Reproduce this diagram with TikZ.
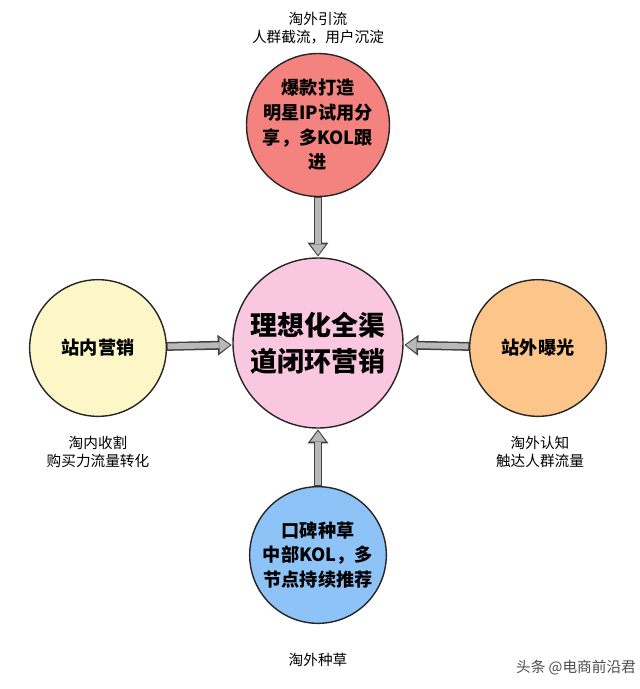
\documentclass[tikz,border=0pt]{standalone}
\usepackage{fontspec}
\setmainfont{Noto Sans CJK SC}
\usetikzlibrary{positioning, arrows.meta}

\definecolor{topred}{HTML}{F4827F}
\definecolor{midpink}{HTML}{F9C8E0}
\definecolor{leftyel}{HTML}{FDF7C8}
\definecolor{rightor}{HTML}{FCC68B}
\definecolor{botblue}{HTML}{8EC3F7}

\begin{document}
\begin{tikzpicture}[
    x=0.03cm, y=-0.03cm,
    every node/.style={font=\fontsize{12.5}{16}\selectfont, align=center},
    ring/.style={circle, draw=black!85, line width=1.2pt, minimum size=4.1cm, inner sep=0pt,
        font=\bfseries\fontsize{15.5}{21}\selectfont},
    hub/.style={ring, minimum size=5.1cm, font=\bfseries\fontsize{23}{31}\selectfont},
    pipefill/.style={line width=5pt, draw=gray!55, -{Triangle[length=9pt, width=13pt, line width=0pt]}}
]
    \useasboundingbox (0,0) rectangle (640,689);
    % circles
    \node[hub, fill=midpink] (hub) at (318,343) {理想化全渠\\道闭环营销};
    \node[ring, fill=topred] (top) at (318,125) {爆款打造\\明星IP试用分\\享，多KOL跟\\进};
    \node[ring, fill=leftyel] (left) at (98,348) {站内营销};
    \node[ring, fill=rightor] (right) at (538,348) {站外曝光};
    \node[ring, fill=botblue] (bot) at (318,555) {口碑种草\\中部KOL，多\\节点持续推荐};

    % arrows: dark outline first, grey body on top
    \foreach \src in {top, left, right, bot} {
        \draw[line width=7.6pt, draw=black!75, -{Triangle[length=12pt, width=17pt]}, shorten >=0.5pt] (\src) -- (hub);
        \draw[pipefill, shorten >=2pt, shorten <=0.6pt] (\src) -- (hub);
    }

    % captions
    \node (toplab) at (318,28) {淘外引流\\人群截流，用户沉淀};
    \node (leftlab) at (98,452) {淘内收割\\购买力流量转化};
    \node (rightlab) at (540,452) {淘外认知\\触达人群流量};
    \node (botlab) at (318,660) {淘外种草};
    \node[text=gray!60!black, font=\fontsize{12.5}{15}\selectfont] (mark) at (576,668) {头条 @电商前沿君};
\end{tikzpicture}
\end{document}
